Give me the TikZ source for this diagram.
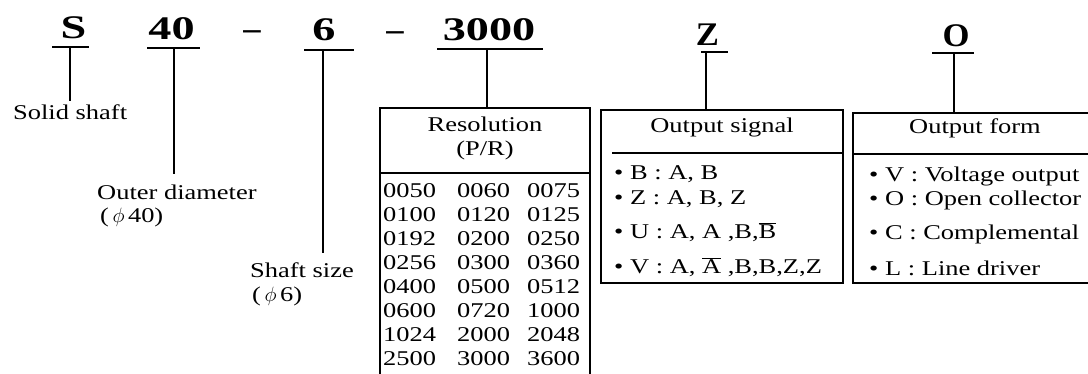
\documentclass[tikz,border=0pt]{standalone}
\usepackage{fontspec}
\setmainfont{Liberation Serif}[FakeStretch=1.26]
\newfontfamily\codefont{Liberation Serif}[FakeStretch=1.4]
\newfontfamily\codefontn{Liberation Serif}[FakeStretch=1.05]
\newcommand\ovl[1]{\leavevmode\vbox{\hrule height 0.9pt\kern1.6pt\hbox{#1}}}
\tikzset{
  lbl/.style={font=\fontsize{21}{24}\selectfont, inner sep=0pt, anchor=base west},
  hdr/.style={font=\fontsize{21}{24}\selectfont, inner sep=0pt, anchor=base},
  code/.style={font=\codefont\bfseries\fontsize{33}{33}\selectfont, inner sep=0pt, anchor=base},
  coden/.style={font=\codefontn\bfseries\fontsize{33}{33}\selectfont, inner sep=0pt, anchor=base},
  rule/.style={line width=1.3pt, line cap=butt},
}
\begin{document}
\begin{tikzpicture}[x=1pt, y=-1pt]
\useasboundingbox[fill=white] (0,0) rectangle (1088,374);

% model code characters
\node[code]  (cS)    at (73.5,39) {S};
\node[code]  (c40)   at (171.5,40) {40};
\node[coden] (d1)    at (252,40) {–};
\node[code]  (c6)    at (324,41) {6};
\node[coden] (d2)    at (395,41) {–};
\node[code]  (c3000) at (489,41) {3000};
\node[coden] (cZ)    at (707.5,46) {Z};
\node[coden] (cO)    at (956,47) {O};

% underlines
\draw[rule] (52,47) -- (89,47);
\draw[rule] (147,48) -- (200,48);
\draw[rule] (304,50) -- (354,50);
\draw[rule] (437,49) -- (543,49);
\draw[rule] (701,52) -- (728,52);
\draw[rule] (932,53) -- (974,53);

\coordinate (uS) at (70,47);
\coordinate (u40) at (174,48);
\coordinate (u6) at (323,50);
\coordinate (u3000) at (487,49);
\coordinate (uZ) at (706,52);
\coordinate (uO) at (954,53);

% descriptions of the first fields
\node[lbl] (solid)  at (13,120) {Solid shaft};
\node[lbl] (outer)  at (97,200) {Outer diameter};
\node[lbl] (outerv) at (100,223) {(\,$\phi$\,40)};
\node[lbl] (shaft)  at (250,278) {Shaft size};
\node[lbl] (shaftv) at (252,302) {(\,$\phi$\,6)};

\draw[rule, shorten >=4pt]  (uS) -- (uS |- solid.north);
\draw[rule, shorten >=11pt] (u40) -- (u40 |- outer.north);
\draw[rule, shorten >=10pt] (u6) -- (u6 |- shaft.north);

% resolution table
\coordinate (resTop) at (487,108);
\draw[rule] (380,376) -- (380,108) -- (590,108) -- (590,376);
\draw[rule] (380,173) -- (590,173);
\draw[rule] (u3000) -- (resTop);
\node[hdr] (resH1) at (485,132) {Resolution};
\node[hdr] (resH2) at (485,156) {(P/R)};
\foreach \a/\b/\c [count=\i from 0] in {
  0050/0060/0075, 0100/0120/0125, 0192/0200/0250, 0256/0300/0360,
  0400/0500/0512, 0600/0720/1000, 1024/2000/2048, 2500/3000/3600} {
  \node[lbl] (r\i a) at (383,198+23.9*\i) {\a};
  \node[lbl] (r\i b) at (457,198+23.9*\i) {\b};
  \node[lbl] (r\i c) at (527,198+23.9*\i) {\c};
}

% output signal box
\coordinate (sigTop) at (706,110);
\draw[rule] (601,110) rectangle (843,283);
\draw[rule] (612,153) -- (843,153);
\draw[rule] (uZ) -- (sigTop);
\node[hdr] (sigH) at (722,133) {Output signal};
\node[lbl] (s1) at (614,180) {• B : A, B};
\node[lbl] (s2) at (614,205) {• Z : A, B, Z};
\node[lbl] (s3) at (614,239) {• U : A, A ,B,\ovl{B}};
\node[lbl] (s4) at (614,274) {• V : A, \ovl{A} ,B,B,Z,Z};

% output form box
\coordinate (frmTop) at (954,113);
\draw[rule] (1090,113) -- (853,113) -- (853,283) -- (1090,283);
\draw[rule] (853,154) -- (1090,154);
\draw[rule] (uO) -- (frmTop);
\node[hdr] (frmH) at (975,134) {Output form};
\node[lbl] (f1) at (869,182) {• V : Voltage output};
\node[lbl] (f2) at (869,206) {• O : Open collector};
\node[lbl] (f3) at (869,240) {• C : Complemental};
\node[lbl] (f4) at (869,276) {• L : Line driver};
\end{tikzpicture}
\end{document}
